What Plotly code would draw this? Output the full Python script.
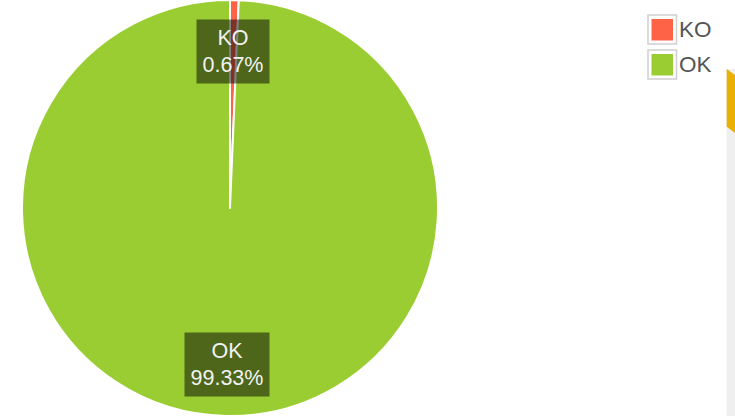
import math
import plotly.graph_objects as go

labels = ["KO", "OK"]
values = [0.67, 99.33]
colors = ["#ff6347", "#9acd32"]

W, H = 735, 416
cx, cy, R = 230, 208, 207  # pie centre (px from left / bottom) and radius

fig = go.Figure(go.Pie(
    labels=labels, values=values, sort=False, direction="clockwise", rotation=0,
    marker=dict(colors=colors, line=dict(color="white", width=2)),
    textinfo="none", hoverinfo="label+percent", showlegend=False,
    domain=dict(x=[(cx - R - 1) / W, (cx + R + 1) / W], y=[0, 1]),
))

# labels inside slices, at ~75% radius along each slice's mid-angle
total = sum(values)
start = 0.0
annotations = []
for lab, v in zip(labels, values):
    frac = v / total
    mid = (start + frac / 2) * 2 * math.pi
    start += frac
    px = cx + 0.754 * R * math.sin(mid)
    py = cy + 0.754 * R * math.cos(mid)
    annotations.append(dict(
        x=px / W, y=py / H, xref="paper", yref="paper", showarrow=False,
        text=f"{lab}<br>{frac * 100:.2f}%", align="center",
        font=dict(family="Liberation Sans, Arial", size=21.5, color="#f2f2f2"),
        bgcolor="rgba(0,0,0,0.5)", borderpad=5.5, xanchor="center", yanchor="middle",
    ))

# custom legend
shapes = []
for i, (lab, col) in enumerate(zip(labels, colors)):
    top = 15 + i * 35
    shapes.append(dict(type="rect", xref="paper", yref="paper",
                       x0=648 / W, x1=676.5 / W, y0=1 - (top + 29) / H, y1=1 - top / H,
                       line=dict(color="#d0d0d0", width=1.5), fillcolor="white"))
    shapes.append(dict(type="rect", xref="paper", yref="paper",
                       x0=651.5 / W, x1=673 / W, y0=1 - (top + 25.5) / H, y1=1 - (top + 4) / H,
                       line=dict(width=0), fillcolor=col))
    annotations.append(dict(
        x=677 / W, y=1 - (top + 14.5) / H, xref="paper", yref="paper", showarrow=False,
        text=lab, xanchor="left", yanchor="middle",
        font=dict(family="Liberation Sans, Arial", size=22.5, color="#555555"),
    ))

# page decoration on right edge
shapes.append(dict(type="rect", xref="paper", yref="paper",
                   x0=726.7 / W, x1=1, y0=0, y1=1 - 69 / H,
                   line=dict(width=0), fillcolor="#efefef", layer="below"))
def P(x, y):
    return f"{x / W},{1 - y / H}"
shapes.append(dict(type="path", xref="paper", yref="paper",
                   path=f"M {P(726.7, 69)} L {P(735, 75)} L {P(735, 133)} L {P(726.7, 126.7)} Z",
                   line=dict(width=0), fillcolor="#e8b000"))

fig.update_layout(
    width=W, height=H, margin=dict(l=0, r=0, t=0, b=0),
    paper_bgcolor="white", plot_bgcolor="white",
    annotations=annotations, shapes=shapes,
)
fig.write_html(
    "out.html",
    config=dict(displayModeBar=False),
    post_script="document.body.style.margin='0';document.body.style.overflow='hidden';",
)
